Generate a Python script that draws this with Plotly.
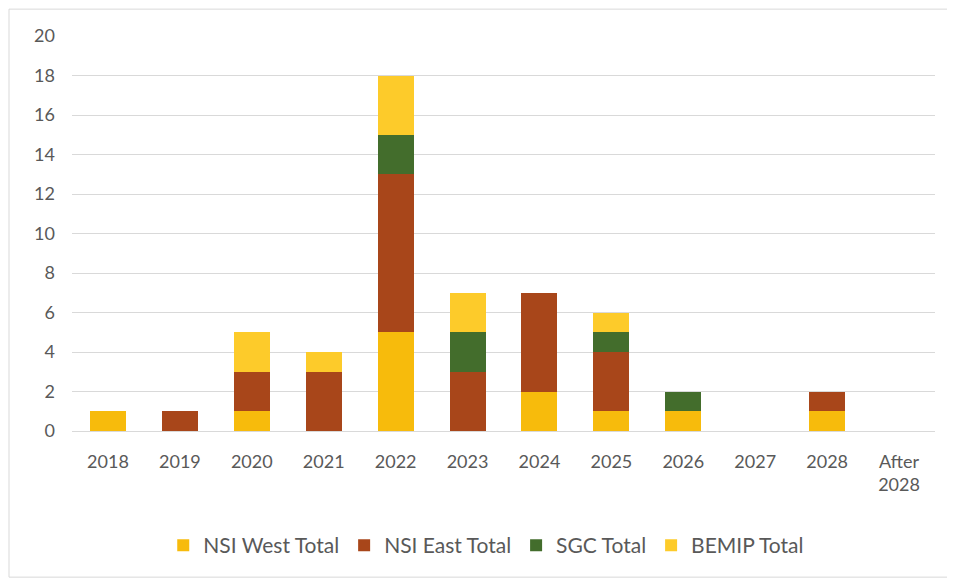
import plotly.graph_objects as go

categories = ["2018", "2019", "2020", "2021", "2022", "2023", "2024", "2025", "2026", "2027", "2028", "After<br>2028"]
nsi_west = [1, 0, 1, 0, 5, 0, 2, 1, 1, 0, 1, 0]
nsi_east = [0, 1, 2, 3, 8, 3, 5, 3, 0, 0, 1, 0]
sgc = [0, 0, 0, 0, 2, 2, 0, 1, 1, 0, 0, 0]
bemip = [0, 0, 2, 1, 3, 2, 0, 1, 0, 0, 0, 0]
y_ticks = list(range(0, 21, 2))

series = [
    ("NSI West Total", nsi_west, "#F7BB0C"),
    ("NSI East Total", nsi_east, "#A8461A"),
    ("SGC Total", sgc, "#436D2C"),
    ("BEMIP Total", bemip, "#FDCB2A"),
]

fig = go.Figure()
for name, vals, color in series:
    fig.add_trace(go.Bar(
        x=categories, y=vals, name=name,
        marker=dict(color=color, line=dict(width=0)),
    ))

font_family = "Lato, Carlito, 'Open Sans', sans-serif"
fig.update_layout(
    barmode="stack",
    bargap=0.5,
    width=955, height=580,
    margin=dict(l=64, r=28, t=28, b=157),
    paper_bgcolor="white",
    plot_bgcolor="white",
    font=dict(family=font_family, size=18, color="#595959"),
    showlegend=True,
    legend=dict(
        orientation="h", x=0.48, xanchor="center", y=-0.29, yanchor="middle",
        font=dict(size=21, color="#595959"),
        itemwidth=30,
        traceorder="normal",
    ),
    xaxis=dict(
        showgrid=False, showline=True, linecolor="#d9d9d9", linewidth=1,
        ticks="", tickfont=dict(size=18, color="#595959"),
        ticklabelstandoff=14,
    ),
    yaxis=dict(
        range=[0, 20], tickvals=y_ticks, showgrid=True, gridcolor="#d9d9d9",
        gridwidth=1, zeroline=False, showline=False, ticks="",
        tickfont=dict(size=18, color="#595959"), ticklabelstandoff=16,
    ),
    shapes=[dict(
        type="rect", xref="paper", yref="paper",
        x0=-0.073, x1=1.017, y0=-0.37, y1=1.068,
        line=dict(color="#d9d9d9", width=1),
    )],
)

fig.write_html("out.html")
